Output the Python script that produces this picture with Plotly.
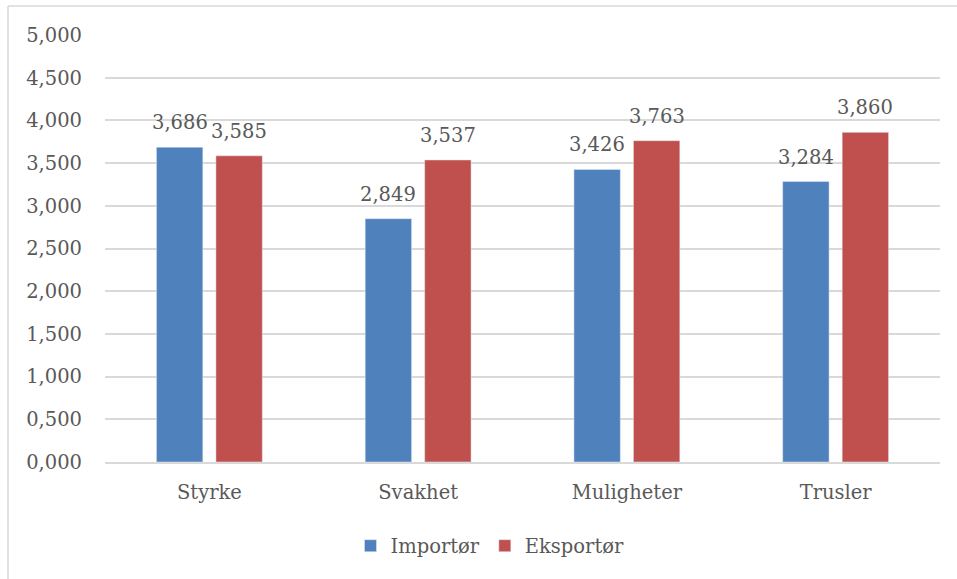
import plotly.graph_objects as go

categories = ["Styrke", "Svakhet", "Muligheter", "Trusler"]
importor = [3.686, 2.849, 3.426, 3.284]
eksportor = [3.585, 3.537, 3.763, 3.860]
series_names = ["Importør", "Eksportør"]
tick_vals = [0, 0.5, 1, 1.5, 2, 2.5, 3, 3.5, 4, 4.5, 5]

FONT = "DejaVu Serif"
TXT = "#595959"
FS = 19.5
colors = ["#4f81bd", "#c0504d"]

W, H = 957, 579
ml, mr, mt, mb = 105, 17, 35, 117
pw, ph = W - ml - mr, H - mt - mb

def px_x(v):
    return (v - ml) / pw

def px_y(v):
    return (H - mb - v) / ph

fig = go.Figure()
for name, vals, col in zip(series_names, [importor, eksportor], colors):
    fig.add_trace(go.Bar(x=categories, y=vals, name=name, marker=dict(color=col)))

bargap, groupgap = 0.43, 0.22
slot = (1 - bargap) * (pw / len(categories)) / 2
annotations = []
for i, vals in enumerate([importor, eksportor]):
    shift = (i - 0.5) * slot
    for c, v in zip(categories, vals):
        annotations.append(dict(x=c, y=v, xref="x", yref="y",
                                text=f"{v:.3f}".replace(".", ","),
                                showarrow=False, xanchor="center", yanchor="bottom",
                                xshift=shift, yshift=11,
                                font=dict(family=FONT, size=FS, color=TXT)))

fig.update_layout(
    width=W, height=H,
    margin=dict(l=ml, r=mr, t=mt, b=mb),
    paper_bgcolor="white", plot_bgcolor="white",
    separators=",.",
    barmode="group", bargap=bargap, bargroupgap=groupgap,
    font=dict(family=FONT, size=FS, color=TXT),
    showlegend=True,
    legend=dict(orientation="h", x=px_x(490), xanchor="center", y=px_y(546), yanchor="middle",
                font=dict(family=FONT, size=FS, color=TXT), itemwidth=30,
                traceorder="normal"),
    xaxis=dict(showgrid=False, showline=True, linecolor="#d9d9d9", linewidth=1.5,
               ticks="", ticklabelstandoff=12, tickfont=dict(size=FS)),
    yaxis=dict(range=[0, 5], tickvals=tick_vals, tickformat=".3f",
               showgrid=True, gridcolor="#d9d9d9", gridwidth=1.5,
               zeroline=False, showline=False, ticks="",
               ticklabelstandoff=22, tickfont=dict(size=FS)),
    annotations=annotations,
    shapes=[
        dict(type="line", xref="paper", yref="paper",
             x0=px_x(8), x1=px_x(957), y0=px_y(6), y1=px_y(6),
             line=dict(color="#d9d9d9", width=1.5)),
        dict(type="line", xref="paper", yref="paper",
             x0=px_x(8), x1=px_x(8), y0=px_y(6), y1=px_y(579),
             line=dict(color="#d9d9d9", width=1.5)),
    ],
)

fig.write_html("out.html")
